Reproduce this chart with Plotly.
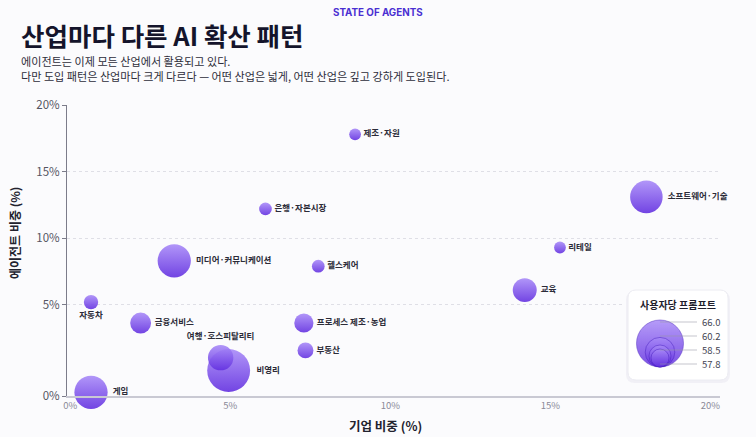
import plotly.graph_objects as go

# 업종별 데이터
industries = ["제조·자원", "은행·자본시장", "소프트웨어·기술", "리테일", "헬스케어",
              "미디어·커뮤니케이션", "교육", "자동차", "금융서비스", "프로세스 제조·농업",
              "부동산", "비영리", "여행·호스피탈리티", "게임"]
company_share = [8.9, 6.1, 18.0, 15.3, 7.75, 3.25, 14.2, 0.65, 2.2, 7.3, 7.35, 4.95, 4.7, 0.65]
agent_share = [17.8, 12.2, 13.1, 9.3, 7.9, 8.3, 6.1, 5.2, 4.0, 4.0, 2.5, 1.4, 2.1, 0.2]
prompts_per_user = [57.0, 57.1, 61.0, 57.0, 57.1, 61.2, 58.9, 57.3, 58.3, 58.0, 57.5, 64.4, 59.2, 61.2]

x_ticks = [0, 5, 10, 15, 20]
y_ticks = [0, 5, 10, 15, 20]
legend_values = [66.0, 60.2, 58.5, 57.8]

# 폰트 / 색
FONT = "Noto Sans CJK KR"
BUBBLE_TOP = "#a98bf8"
BUBBLE_BOTTOM = "#6330e0"
BG = "#fbfbfd"

# 픽셀 기준 레이아웃
W, H = 756, 437
L, R_EDGE, T, B = 67, 734, 105, 396


def paper_x(px):
    return (px - L) / (R_EDGE - L)


def paper_y(py):
    return (B - py) / (B - T)


# y축: 0~5% 구간이 더 넓게 그려진 축
LOW_STRETCH = 1.37


def y_scale(v):
    return v * LOW_STRETCH if v <= 5 else 5 * LOW_STRETCH + (v - 5)


# 버블 크기 (사용자당 프롬프트 -> 지름)
SIZE_BASE, SIZE_SPAN, SIZE_MAX = 56.4, 9.6, 47


def bubble_size(v):
    return SIZE_MAX * max(v - SIZE_BASE, 0) ** 0.5 / SIZE_SPAN ** 0.5


positions = []
for name in industries:
    if name == "자동차":
        positions.append("bottom center")
    elif name == "여행·호스피탈리티":
        positions.append("top center")
    else:
        positions.append("middle right")

fig = go.Figure()

fig.add_trace(go.Scatter(
    x=company_share,
    y=[y_scale(v) for v in agent_share],
    mode="markers+text",
    text=industries,
    textposition=positions,
    textfont=dict(family=FONT, size=8.5, color="#2b2b38", weight=600),
    marker=dict(
        size=[bubble_size(v) for v in prompts_per_user],
        color=BUBBLE_TOP,
        gradient=dict(type="vertical", color=BUBBLE_BOTTOM),
        opacity=0.9,
        line=dict(width=0),
    ),
    cliponaxis=False,
    hoverinfo="skip",
    showlegend=False,
))

# 범례용 버블 (별도 축, 픽셀 좌표)
leg_sizes = [bubble_size(v) for v in legend_values]
fig.add_trace(go.Scatter(
    x=[660] * len(legend_values),
    y=[367 - s / 2 for s in leg_sizes],
    mode="markers",
    marker=dict(
        size=leg_sizes,
        color=BUBBLE_TOP,
        gradient=dict(type="vertical", color=BUBBLE_BOTTOM),
        opacity=0.85,
        line=dict(width=1, color="rgba(70,30,190,0.55)"),
    ),
    xaxis="x2", yaxis="y2",
    hoverinfo="skip",
    showlegend=False,
))

fig.update_layout(
    width=W, height=H,
    margin=dict(l=L, r=W - R_EDGE, t=T, b=H - B),
    paper_bgcolor=BG,
    plot_bgcolor=BG,
    font=dict(family=FONT),
    xaxis=dict(
        domain=[0, paper_x(720)],
        range=[-0.1, 20.3],
        tickvals=x_ticks,
        ticktext=[f"{v}%" for v in x_ticks],
        tickfont=dict(family=FONT, size=9.5, color="#8a8a98"),
        showgrid=False, zeroline=False,
        showline=True, linecolor="#c9c9d3", linewidth=2,
        ticks="",
        fixedrange=True,
    ),
    yaxis=dict(
        range=[0, y_scale(20)],
        tickvals=[y_scale(v) for v in y_ticks],
        ticktext=[f"{v}%" for v in y_ticks],
        tickfont=dict(family=FONT, size=11.5, color="#555562"),
        showgrid=True, gridcolor="#dfdfe6", griddash="dot", gridwidth=1,
        zeroline=False,
        showline=True, linecolor="#7c7c8a", linewidth=1,
        ticks="outside", ticklen=4, tickcolor="#7c7c8a",
        fixedrange=True,
    ),
    xaxis2=dict(
        domain=[paper_x(624), paper_x(732)],
        range=[624, 732], anchor="y2", visible=False, fixedrange=True,
    ),
    yaxis2=dict(
        domain=[paper_y(384), paper_y(286)],
        range=[384, 286], anchor="x2", visible=False, fixedrange=True,
    ),
)


def rounded_rect(x0, y0, x1, y1, r):
    return (f"M {x0 + r},{y0} L {x1 - r},{y0} Q {x1},{y0} {x1},{y0 + r} "
            f"L {x1},{y1 - r} Q {x1},{y1} {x1 - r},{y1} L {x0 + r},{y1} "
            f"Q {x0},{y1} {x0},{y1 - r} L {x0},{y0 + r} Q {x0},{y0} {x0 + r},{y0} Z")


# 범례 상자 (그림자 + 흰 상자)
fig.add_shape(type="path", xref="x2", yref="y2", layer="between",
              path=rounded_rect(626, 291, 730, 383, 9),
              fillcolor="rgba(60,40,120,0.05)", line=dict(width=0))
fig.add_shape(type="path", xref="x2", yref="y2", layer="between",
              path=rounded_rect(628, 290, 728, 380, 8),
              fillcolor="#ffffff", line=dict(color="#ececf2", width=1))

for i, v in enumerate(legend_values):
    ly = 322 + 14 * i
    fig.add_shape(type="line", xref="x2", yref="y2", layer="above",
                  x0=660, x1=697, y0=ly, y1=ly,
                  line=dict(color="rgba(150,150,165,0.7)", width=0.8))
    fig.add_annotation(xref="x2", yref="y2", x=700, y=ly, text=f"{v:.1f}",
                       showarrow=False, xanchor="left", yanchor="middle",
                       font=dict(family=FONT, size=9.5, color="#444452"))

fig.add_annotation(xref="x2", yref="y2", x=678, y=304, text="사용자당 프롬프트",
                   showarrow=False, xanchor="center", yanchor="middle",
                   font=dict(family=FONT, size=10, color="#1e1e2c", weight="bold"))

# 머리글
fig.add_annotation(xref="paper", yref="paper", x=paper_x(378), y=paper_y(12),
                   text="STATE OF AGENTS", showarrow=False,
                   xanchor="center", yanchor="middle",
                   font=dict(family="Inter", size=9.8, color="#4a2fd2", weight="bold"))
fig.add_annotation(xref="paper", yref="paper", x=paper_x(19), y=paper_y(34),
                   text="산업마다 다른 AI 확산 패턴", showarrow=False,
                   xanchor="left", yanchor="middle",
                   font=dict(family=FONT, size=25.5, color="#14142b", weight="bold"))
fig.add_annotation(xref="paper", yref="paper", x=paper_x(19), y=paper_y(61),
                   text="에이전트는 이제 모든 산업에서 활용되고 있다.", showarrow=False,
                   xanchor="left", yanchor="middle",
                   font=dict(family=FONT, size=11.1, color="#2d2d3a"))
fig.add_annotation(xref="paper", yref="paper", x=paper_x(19), y=paper_y(76),
                   text="다만 도입 패턴은 산업마다 크게 다르다 — 어떤 산업은 넓게, 어떤 산업은 깊고 강하게 도입된다.",
                   showarrow=False, xanchor="left", yanchor="middle",
                   font=dict(family=FONT, size=11.1, color="#2d2d3a"))

# 축 제목
fig.add_annotation(xref="paper", yref="paper", x=paper_x(385), y=paper_y(425),
                   text="기업 비중 (%)", showarrow=False,
                   xanchor="center", yanchor="middle",
                   font=dict(family=FONT, size=12.5, color="#22222e", weight="bold"))
fig.add_annotation(xref="paper", yref="paper", x=paper_x(14), y=paper_y(233),
                   text="에이전트 비중 (%)", showarrow=False, textangle=-90,
                   xanchor="center", yanchor="middle",
                   font=dict(family=FONT, size=12, color="#22222e", weight="bold"))

# 페이지 기본 여백 제거
fig.write_html("out.html", config={"displayModeBar": False},
               post_script="document.body.style.margin='0';")
